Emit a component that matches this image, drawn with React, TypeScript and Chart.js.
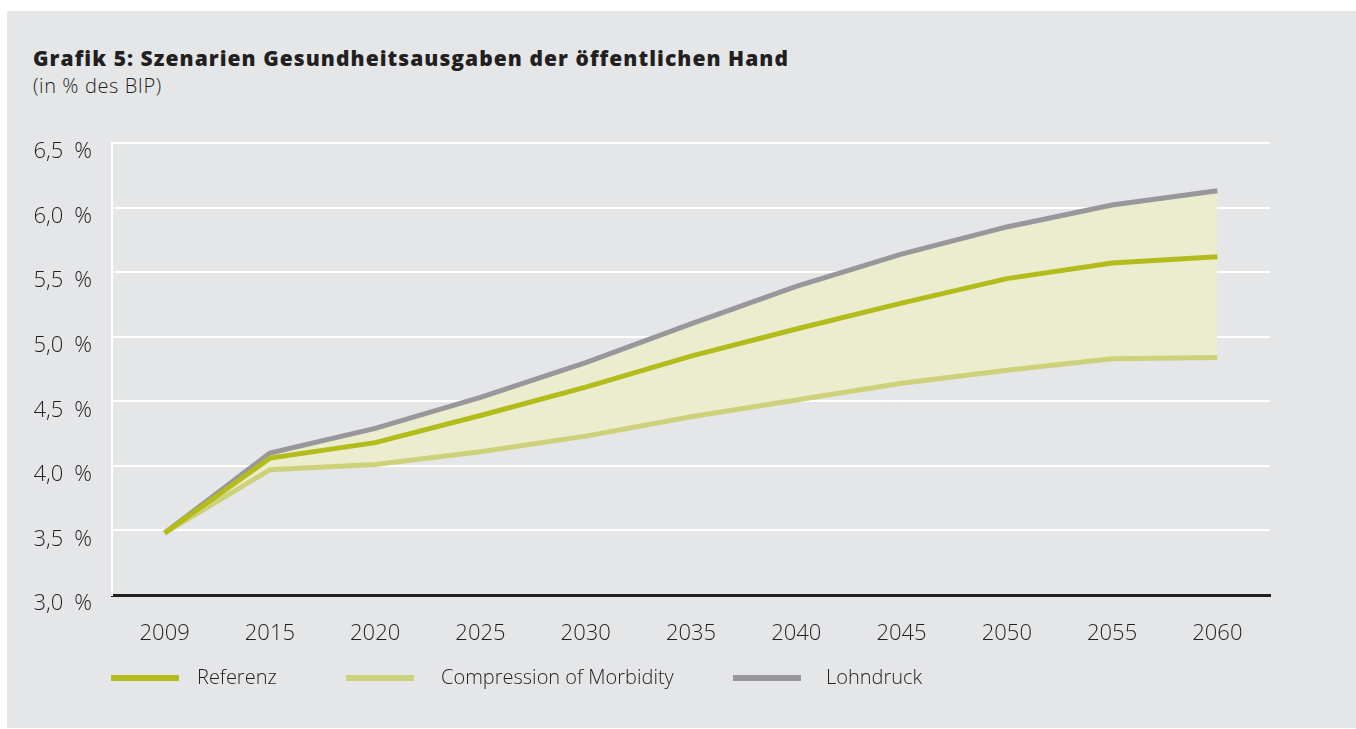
import React, { useEffect, useRef } from "react";
import { Chart, registerables } from "chart.js";

Chart.register(...registerables);

const years = ["2009", "2015", "2020", "2025", "2030", "2035", "2040", "2045", "2050", "2055", "2060"];
const referenz = [3.48, 4.06, 4.18, 4.39, 4.61, 4.85, 5.06, 5.26, 5.45, 5.57, 5.62];
const compression = [3.48, 3.97, 4.01, 4.11, 4.23, 4.38, 4.51, 4.64, 4.74, 4.83, 4.84];
const lohndruck = [3.48, 4.10, 4.29, 4.53, 4.80, 5.10, 5.39, 5.64, 5.85, 6.02, 6.13];

const seriesNames = ["Referenz", "Compression of Morbidity", "Lohndruck"];
const seriesColors = ["#B3BC1B", "#CDD27A", "#98989C"];

const FONT = "'Open Sans', 'Noto Sans', sans-serif";
const TEXT = "#231F20";

export default function App() {
  const ref = useRef<HTMLCanvasElement | null>(null);

  useEffect(() => {
    document.body.style.margin = "0";
    const canvas = ref.current!;
    const chart = new Chart(canvas, {
      type: "line",
      data: {
        labels: years,
        datasets: [
          {
            label: seriesNames[0],
            data: referenz,
            borderColor: seriesColors[0],
            borderWidth: 5,
            pointRadius: 0,
            fill: false,
            borderCapStyle: "butt",
            borderJoinStyle: "miter",
          },
          {
            label: seriesNames[1],
            data: compression,
            borderColor: seriesColors[1],
            borderWidth: 5,
            pointRadius: 0,
            fill: false,
            borderCapStyle: "butt",
            borderJoinStyle: "miter",
          },
          {
            label: seriesNames[2],
            data: lohndruck,
            borderColor: seriesColors[2],
            backgroundColor: "#ECEDCF",
            borderWidth: 5,
            pointRadius: 0,
            fill: 1,
            borderCapStyle: "butt",
            borderJoinStyle: "miter",
          },
        ],
      },
      options: {
        animation: false,
        responsive: false,
        devicePixelRatio: 1,
        layout: { padding: { left: 0, top: 143, right: 86, bottom: 0 } },
        plugins: {
          legend: { display: false },
          tooltip: { enabled: false },
          title: { display: false },
          filler: { drawTime: "beforeDatasetsDraw" },
        },
        scales: {
          x: {
            type: "category",
            offset: true,
            grid: { display: false, drawTicks: false },
            border: { display: true, color: TEXT, width: 3 },
            ticks: {
              color: TEXT,
              font: { family: FONT, size: 22, weight: "300" },
              padding: 26,
              maxRotation: 0,
              autoSkip: false,
            },
            afterFit: (scale: any) => {
              scale.height = 729 - 595;
            },
          },
          y: {
            min: 3,
            max: 6.5,
            grid: { color: "#FFFFFF", lineWidth: 2, drawTicks: false },
            border: { display: true, color: "#FFFFFF", width: 2 },
            ticks: {
              stepSize: 0.5,
              color: TEXT,
              padding: 20,
              labelOffset: 9,
              font: { family: FONT, size: 22, weight: "300" },
              callback: (v: any) => Number(v).toFixed(1).replace(".", ",") + "\u2002%",
            },
            afterFit: (scale: any) => {
              scale.width = 112;
            },
          },
        },
      },
    });
    return () => chart.destroy();
  }, []);

  return (
    <div style={{ position: "absolute", left: 0, top: 0, width: 1356, height: 729, background: "#FFFFFF", overflow: "hidden", fontFamily: FONT }}>
      <div style={{ position: "absolute", left: 7, top: 11, width: 1349, height: 717, background: "#E5E6E8" }} />
      <div style={{ position: "absolute", left: 33, top: 44, fontSize: 21, fontWeight: 800, letterSpacing: 1.05, color: TEXT, whiteSpace: "nowrap", lineHeight: "28px" }}>
        Grafik 5: Szenarien Gesundheitsausgaben der öffentlichen Hand
      </div>
      <div style={{ position: "absolute", left: 33, top: 72, fontSize: 20, fontWeight: 300, letterSpacing: 0.6, color: TEXT, whiteSpace: "nowrap", lineHeight: "28px" }}>
        (in % des BIP)
      </div>
      <canvas ref={ref} width={1356} height={729} style={{ position: "absolute", left: 0, top: 0, width: 1356, height: 729 }} />
      {[
        { lx: 111, tx: 197 },
        { lx: 346, tx: 441 },
        { lx: 733, tx: 826 },
      ].map((p, i) => (
        <React.Fragment key={i}>
          <div style={{ position: "absolute", left: p.lx, top: 675, width: 68, height: 6, background: seriesColors[i] }} />
          <div style={{ position: "absolute", left: p.tx, top: 663, fontSize: 20, fontWeight: 300, color: TEXT, whiteSpace: "nowrap", lineHeight: "28px" }}>
            {seriesNames[i]}
          </div>
        </React.Fragment>
      ))}
    </div>
  );
}
